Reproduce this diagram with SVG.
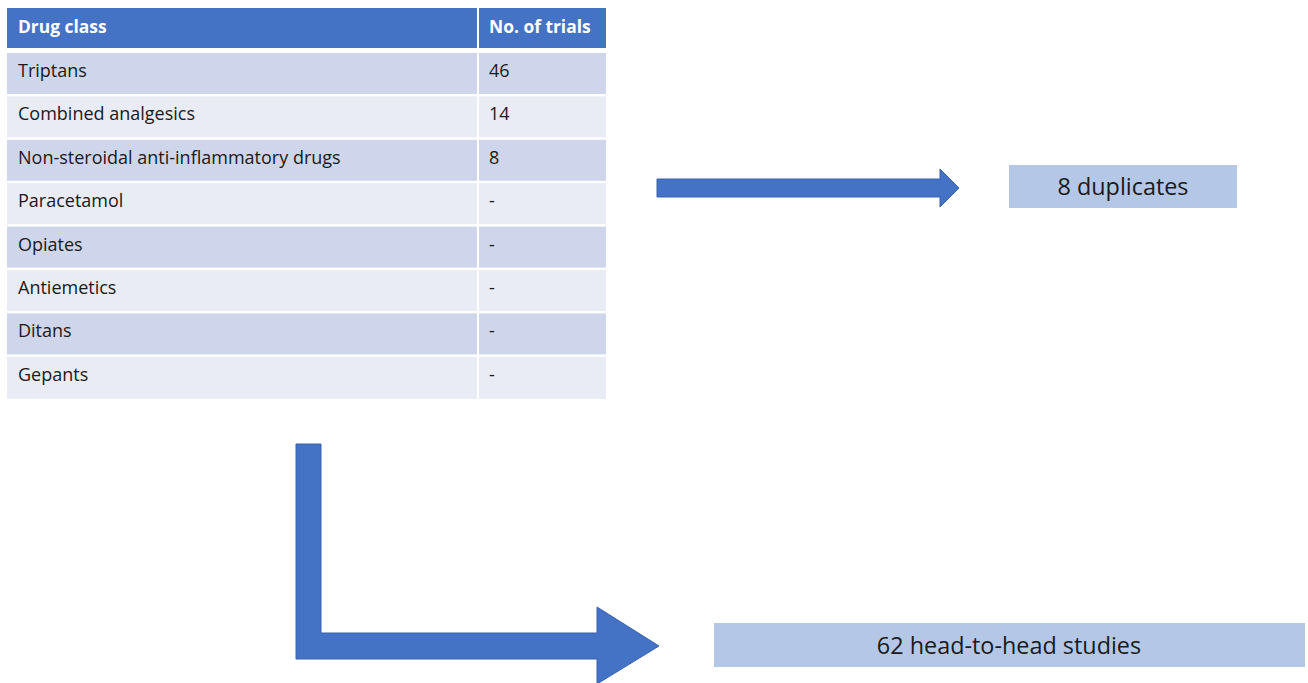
<svg xmlns="http://www.w3.org/2000/svg" width="1308" height="683" viewBox="0 0 1308 683">
<style>
.hd{fill:#4472C4}
.r1{fill:#CFD5EA}
.r2{fill:#E9EBF5}
.ht{font-family:"Open Sans","Liberation Sans",sans-serif;font-size:17.4px;font-weight:bold;fill:#FFFFFF}
.ct{font-family:"Open Sans","Liberation Sans",sans-serif;font-size:18px;fill:#1a1a1a}
.box{fill:#B4C7E7}
.bt{font-family:"Open Sans","Liberation Sans",sans-serif;font-size:23.4px;fill:#1a1a1a;text-anchor:middle}
.arr{fill:#4472C4;stroke:#3A63AE;stroke-width:1}
</style>
<rect width="1308" height="683" fill="#FFFFFF"/>
<g id="table">
<rect class="hd" x="7" y="8" width="470" height="40"/>
<rect class="hd" x="479" y="8" width="127" height="40"/>
<text class="ht" x="18" y="33">Drug class</text>
<text class="ht" x="489" y="33">No. of trials</text>
<g id="row1"><rect class="r1" x="7" y="53" width="470" height="41"/><rect class="r1" x="479" y="53" width="127" height="41"/><text class="ct" x="18" y="77">Triptans</text><text class="ct" x="489" y="77">46</text></g>
<g id="row2"><rect class="r2" x="7" y="96.4" width="470" height="41"/><rect class="r2" x="479" y="96.4" width="127" height="41"/><text class="ct" x="18" y="120.4">Combined analgesics</text><text class="ct" x="489" y="120.4">14</text></g>
<g id="row3"><rect class="r1" x="7" y="139.8" width="470" height="41"/><rect class="r1" x="479" y="139.8" width="127" height="41"/><text class="ct" x="18" y="163.8">Non-steroidal anti-inflammatory drugs</text><text class="ct" x="489" y="163.8">8</text></g>
<g id="row4"><rect class="r2" x="7" y="183.2" width="470" height="41"/><rect class="r2" x="479" y="183.2" width="127" height="41"/><text class="ct" x="18" y="207.2">Paracetamol</text><text class="ct" x="489" y="207.2">-</text></g>
<g id="row5"><rect class="r1" x="7" y="226.6" width="470" height="41"/><rect class="r1" x="479" y="226.6" width="127" height="41"/><text class="ct" x="18" y="250.6">Opiates</text><text class="ct" x="489" y="250.6">-</text></g>
<g id="row6"><rect class="r2" x="7" y="270" width="470" height="41"/><rect class="r2" x="479" y="270" width="127" height="41"/><text class="ct" x="18" y="294">Antiemetics</text><text class="ct" x="489" y="294">-</text></g>
<g id="row7"><rect class="r1" x="7" y="313.4" width="470" height="41"/><rect class="r1" x="479" y="313.4" width="127" height="41"/><text class="ct" x="18" y="337.4">Ditans</text><text class="ct" x="489" y="337.4">-</text></g>
<g id="row8"><rect class="r2" x="7" y="356.8" width="470" height="42"/><rect class="r2" x="479" y="356.8" width="127" height="42"/><text class="ct" x="18" y="381">Gepants</text><text class="ct" x="489" y="381">-</text></g>
</g>
<g id="connectors">
<path class="arr" d="M657,179 L940,179 L940,169 L959,188 L940,207 L940,197 L657,197 Z"/>
<path class="arr" d="M296,444 L321,444 L321,633 L597,633 L597,607 L659,646 L597,684 L597,659 L296,659 Z"/>
</g>
<g id="duplicates">
<rect class="box" x="1009" y="165" width="228" height="43"/>
<text class="bt" x="1123" y="195">8 duplicates</text>
</g>
<g id="studies">
<rect class="box" x="714" y="623" width="591" height="44"/>
<text class="bt" x="1009" y="654">62 head-to-head studies</text>
</g>
</svg>
